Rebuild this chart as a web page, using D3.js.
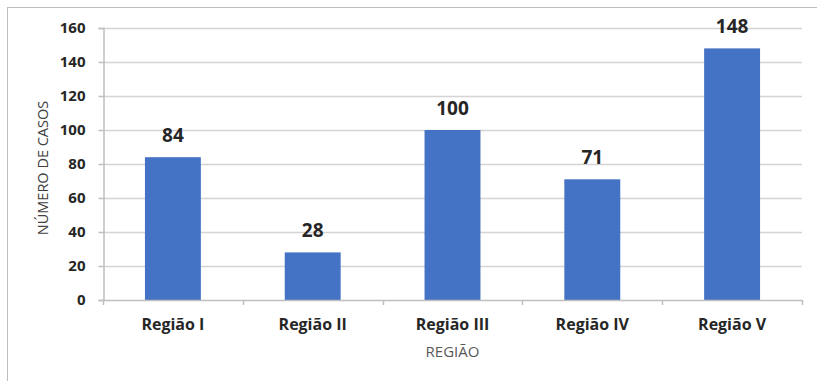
<!DOCTYPE html>
<html>
<head>
<meta charset="utf-8">
<script src="https://cdn.jsdelivr.net/npm/d3@7"></script>
<style>
  html, body { margin: 0; padding: 0; background: #fff; }
  svg { display: block; font-family: "Open Sans", sans-serif; }
</style>
</head>
<body>
<svg id="chart" width="817" height="381"></svg>
<script>
// Casos por região
const categories = ["Região I", "Região II", "Região III", "Região IV", "Região V"];
const cases = [84, 28, 100, 71, 148];
const yTicks = [0, 20, 40, 60, 80, 100, 120, 140, 160];
const xTitle = "REGIÃO";
const yTitle = "NÚMERO DE CASOS";

const FONT = "'Open Sans', sans-serif";
const svg = d3.select("#chart");
const W = 817, H = 381;
const margin = { left: 103, right: 15, top: 28, bottom: 81 };

// Outer chart frame
svg.append("rect")
  .attr("x", 7.5).attr("y", 7.5)
  .attr("width", W + 20).attr("height", H + 20)
  .attr("fill", "#fff").attr("stroke", "#bdbdbd").attr("stroke-width", 1);

const x = d3.scaleBand()
  .domain(categories)
  .range([margin.left, W - margin.right])
  .paddingInner(0.6)
  .paddingOuter(0.3);

const y = d3.scaleLinear()
  .domain([0, 160])
  .range([H - margin.bottom, margin.top]);

// Horizontal gridlines
svg.append("g")
  .selectAll("line")
  .data(yTicks.filter(d => d > 0))
  .join("line")
  .attr("x1", margin.left).attr("x2", W - margin.right)
  .attr("y1", d => Math.round(y(d)) + 0.5).attr("y2", d => Math.round(y(d)) + 0.5)
  .attr("stroke", "#d4d4d4").attr("stroke-width", 1.5);

// Y axis
const yAxis = svg.append("g")
  .attr("transform", `translate(${margin.left + 0.5},0)`)
  .call(d3.axisLeft(y).tickValues(yTicks).tickSize(5).tickPadding(13));
yAxis.attr("font-family", FONT).attr("font-size", 15);
yAxis.select(".domain").attr("stroke", "#bfbfbf").attr("stroke-width", 1.5);
yAxis.selectAll(".tick line").attr("stroke", "#bfbfbf").attr("stroke-width", 1.5);
yAxis.selectAll(".tick text")
  .attr("fill", "#262626").attr("font-weight", "bold");

// Bars
svg.append("g")
  .selectAll("rect")
  .data(categories)
  .join("rect")
  .attr("x", d => x(d))
  .attr("width", x.bandwidth())
  .attr("y", (d, i) => y(cases[i]))
  .attr("height", (d, i) => y(0) - y(cases[i]))
  .attr("fill", "#4472c4");

// X axis with ticks on category boundaries
const x0 = y(0);
const xAxis = svg.append("g");
xAxis.append("line")
  .attr("x1", margin.left).attr("x2", W - margin.right)
  .attr("y1", x0 + 0.5).attr("y2", x0 + 0.5)
  .attr("stroke", "#bfbfbf").attr("stroke-width", 1.5);
const step = x.step();
xAxis.selectAll("line.tick")
  .data(d3.range(categories.length + 1))
  .join("line")
  .attr("class", "tick")
  .attr("x1", i => Math.round(margin.left + i * step) + 0.5)
  .attr("x2", i => Math.round(margin.left + i * step) + 0.5)
  .attr("y1", x0).attr("y2", x0 + 5)
  .attr("stroke", "#bfbfbf").attr("stroke-width", 1.5);
xAxis.selectAll("text")
  .data(categories)
  .join("text")
  .attr("x", d => x(d) + x.bandwidth() / 2)
  .attr("y", x0 + 30)
  .attr("text-anchor", "middle")
  .attr("fill", "#262626").attr("font-size", 16).attr("font-weight", "bold")
  .text(d => d);

// Value labels
svg.append("g")
  .selectAll("text")
  .data(categories)
  .join("text")
  .attr("x", d => x(d) + x.bandwidth() / 2)
  .attr("y", (d, i) => y(cases[i]) - 15)
  .attr("text-anchor", "middle")
  .attr("fill", "#262626").attr("font-size", 19).attr("font-weight", "bold")
  .text((d, i) => cases[i]);

// Axis titles
svg.append("text")
  .attr("x", (margin.left + W - margin.right) / 2)
  .attr("y", x0 + 57)
  .attr("text-anchor", "middle")
  .attr("fill", "#595959").attr("font-size", 15)
  .text(xTitle);

svg.append("text")
  .attr("transform", `translate(48,${(y(0) + y(160)) / 2 + 4}) rotate(-90)`)
  .attr("text-anchor", "middle")
  .attr("fill", "#404040").attr("font-size", 14.5)
  .text(yTitle);
</script>
</body>
</html>
